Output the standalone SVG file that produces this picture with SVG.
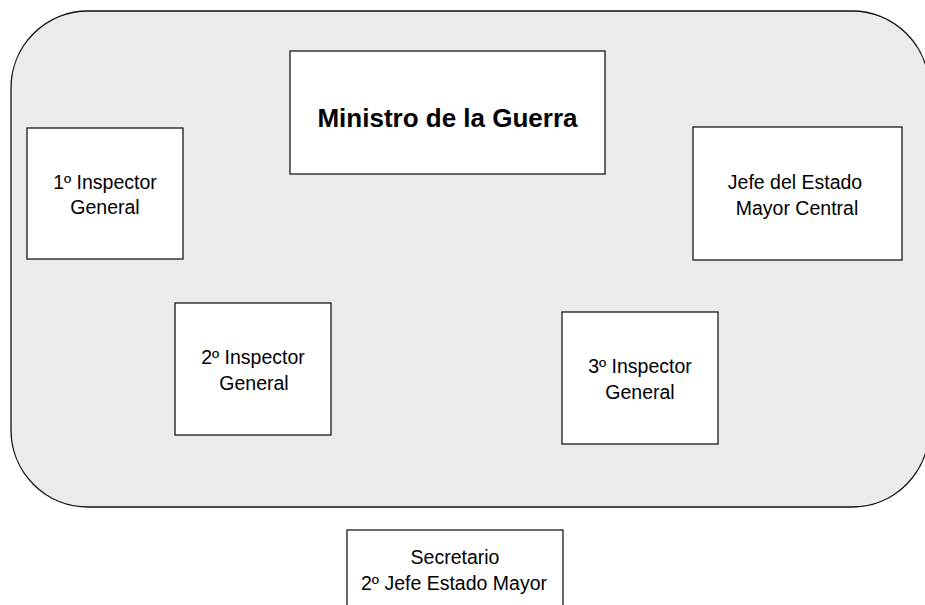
<svg xmlns="http://www.w3.org/2000/svg" width="925" height="605" viewBox="0 0 925 605">
<style>
.box{fill:#ffffff;stroke:#1a1a1a;stroke-width:1.3}
.t{font-family:"Liberation Sans",Arial,sans-serif;font-size:19.5px;fill:#000;text-anchor:middle}
.b{font-family:"Liberation Sans",Arial,sans-serif;font-size:26px;font-weight:bold;fill:#000;text-anchor:middle}
</style>
<rect width="925" height="605" fill="#ffffff"/>
<g id="frame">
<rect x="11" y="11" width="918" height="496" rx="77" ry="77" fill="#ebebeb" stroke="#111" stroke-width="1.3"/>
</g>
<g id="connectors"></g>
<g id="ministro">
<rect class="box" x="290" y="51" width="315" height="123"/>
<text class="b" x="447.5" y="127">Ministro de la Guerra</text>
</g>
<g id="inspector1">
<rect class="box" x="27" y="128" width="156" height="131"/>
<text class="t" x="105" y="189">1º Inspector</text>
<text class="t" x="105" y="214">General</text>
</g>
<g id="jefe">
<rect class="box" x="693" y="127" width="209" height="133"/>
<text class="t" x="795" y="189">Jefe del Estado</text>
<text class="t" x="797" y="215">Mayor Central</text>
</g>
<g id="inspector2">
<rect class="box" x="175" y="303" width="156" height="132"/>
<text class="t" x="253" y="364">2º Inspector</text>
<text class="t" x="254" y="390">General</text>
</g>
<g id="inspector3">
<rect class="box" x="562" y="312" width="156" height="132"/>
<text class="t" x="640" y="373">3º Inspector</text>
<text class="t" x="640" y="399">General</text>
</g>
<g id="secretario">
<rect class="box" x="347" y="530" width="216" height="90"/>
<text class="t" x="455" y="564">Secretario</text>
<text class="t" x="454" y="590">2º Jefe Estado Mayor</text>
</g>
</svg>
